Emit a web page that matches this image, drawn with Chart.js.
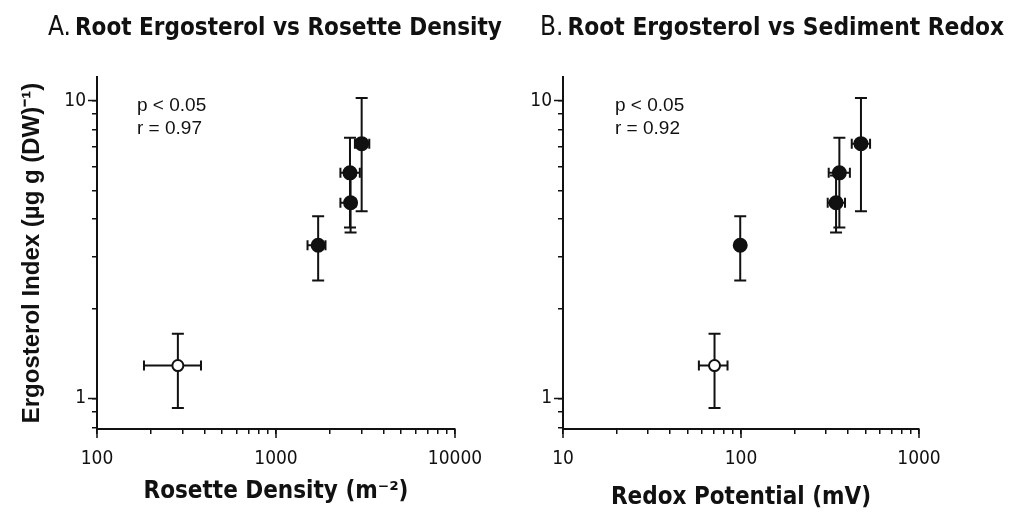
<!DOCTYPE html>
<html>
<head>
<meta charset="utf-8">
<script src="https://cdn.jsdelivr.net/npm/chart.js@4.4.0/dist/chart.umd.min.js"></script>
<style>
  body { margin: 0; background: #fff; }
  #wrap { position: relative; width: 1009px; height: 515px; }
  canvas { position: absolute; top: 0; }
  #chartA { left: 0; }
  #chartB { left: 505px; }
</style>
</head>
<body>
<div id="wrap">
  <canvas id="chartA" width="505" height="515"></canvas>
  <canvas id="chartB" width="504" height="515"></canvas>
</div>
<script>
// ergosterol index per site (first site = open symbol)
const ergosterol = [1.29, 3.27, 4.54, 5.72, 7.17];
const ergosterolLow = [0.93, 2.49, 3.61, 3.75, 4.25];
const ergosterolHigh = [1.65, 4.09, 5.6, 7.5, 10.2];

// panel A: rosette density (m-2)
const rosetteDensity = [283, 1720, 2610, 2590, 3010];
const rosetteDensityLow = [183, 1500, 2290, 2290, 2760];
const rosetteDensityHigh = [381, 1890, 2780, 2940, 3320];

// panel B: redox potential (mV)
const redox = [71, 99, 342, 357, 472];
const redoxLow = [58, 97, 307, 311, 419];
const redoxHigh = [84, 101, 384, 409, 531];

const densityTicks = [100, 1000, 10000];
const redoxTicks = [10, 100, 1000];
const ergTicks = [1, 10];

const narrow = '"Liberation Sans Narrow", "DejaVu Sans Condensed", "Liberation Sans", Arial, sans-serif';
const helv = '"Liberation Sans", Arial, sans-serif';
const ink = '#111';

// 1..9 per decade between min and max
function logTicks(min, max) {
  const out = [];
  for (let d = Math.pow(10, Math.floor(Math.log10(min))); d < max * 10; d *= 10) {
    for (let k = 1; k <= 9; k++) {
      const v = +(k * d).toPrecision(3);
      if (v >= min - 1e-9 && v <= max + 1e-9) out.push(v);
    }
  }
  return out;
}

const errorBars = {
  id: 'errorBars',
  beforeDatasetsDraw(chart) {
    const { ctx, scales: { x, y } } = chart;
    ctx.save();
    ctx.strokeStyle = ink;
    ctx.lineWidth = 2;
    chart.data.datasets[0].data.forEach(p => {
      const px = x.getPixelForValue(p.x), py = y.getPixelForValue(p.y);
      const x0 = x.getPixelForValue(p.xMin), x1 = x.getPixelForValue(p.xMax);
      const y0 = y.getPixelForValue(p.yMin), y1 = y.getPixelForValue(p.yMax);
      ctx.beginPath();
      ctx.moveTo(px, y0); ctx.lineTo(px, y1);
      ctx.moveTo(px - 6, y0); ctx.lineTo(px + 6, y0);
      ctx.moveTo(px - 6, y1); ctx.lineTo(px + 6, y1);
      ctx.moveTo(x0, py); ctx.lineTo(x1, py);
      ctx.moveTo(x0, py - 5); ctx.lineTo(x0, py + 5);
      ctx.moveTo(x1, py - 5); ctx.lineTo(x1, py + 5);
      ctx.stroke();
    });
    ctx.restore();
  }
};

// longer marks for the decades + panel text
const decor = {
  id: 'decor',
  afterDraw(chart, args, opts) {
    const { ctx, scales: { x, y }, chartArea } = chart;
    ctx.save();
    ctx.strokeStyle = ink;
    ctx.lineWidth = 1.5;
    ctx.beginPath();
    opts.xMajors.forEach(v => {
      const px = x.getPixelForValue(v);
      ctx.moveTo(px, chartArea.bottom); ctx.lineTo(px, chartArea.bottom + 9);
    });
    opts.yMajors.forEach(v => {
      const py = y.getPixelForValue(v);
      ctx.moveTo(chartArea.left, py); ctx.lineTo(chartArea.left - 9, py);
    });
    ctx.stroke();

    ctx.fillStyle = ink;
    ctx.textBaseline = 'alphabetic';
    ctx.font = '26px ' + narrow;
    ctx.fillText(opts.letter, opts.titleX, 35);
    const w = ctx.measureText(opts.letter).width;
    ctx.font = 'bold ' + opts.titleSize + 'px ' + narrow;
    ctx.fillText(opts.title, opts.titleX + w + 4, 35);

    ctx.font = '19px ' + helv;
    ctx.fillText(opts.stats[0], chartArea.left + opts.statsX, 111);
    ctx.fillText(opts.stats[1], chartArea.left + opts.statsX, 134);
    ctx.restore();
  }
};

function makeChart(id, xs, xLow, xHigh, xMin, xMax, xMajors, xTitle, xTitleBottom, yW, padRight, withYTitle, decorOpts) {
  const points = xs.map((v, i) => ({
    x: v, y: ergosterol[i],
    xMin: xLow[i], xMax: xHigh[i],
    yMin: ergosterolLow[i], yMax: ergosterolHigh[i]
  }));
  return new Chart(document.getElementById(id), {
    type: 'scatter',
    data: {
      datasets: [{
        data: points,
        pointRadius: ctx => ctx.dataIndex === 0 ? 5.5 : 6.5,
        pointBackgroundColor: ctx => ctx.dataIndex === 0 ? '#fff' : ink,
        pointBorderColor: ink,
        pointBorderWidth: 2
      }]
    },
    options: {
      responsive: false,
      animation: false,
      layout: { padding: { top: 77, right: padRight, bottom: 0, left: 0 } },
      plugins: {
        legend: { display: false },
        tooltip: { enabled: false },
        decor: decorOpts
      },
      scales: {
        x: {
          type: 'logarithmic',
          min: xMin, max: xMax,
          afterBuildTicks: s => { s.ticks = logTicks(xMin, xMax).map(v => ({ value: v })); },
          afterFit: s => { s.height = 86; },
          border: { color: ink, width: 2 },
          grid: { drawOnChartArea: false, tickLength: 5, color: ink, lineWidth: 1.5 },
          ticks: {
            autoSkip: false, maxRotation: 0, padding: 14, color: ink,
            font: { family: narrow, size: 19 },
            callback: v => xMajors.includes(v) ? String(v) : ''
          },
          title: {
            display: true, text: xTitle, color: ink,
            font: { family: narrow, size: 24, weight: 'bold' },
            padding: { top: 0, bottom: xTitleBottom }
          }
        },
        y: {
          type: 'logarithmic',
          min: 0.79, max: 12,
          afterBuildTicks: s => { s.ticks = logTicks(0.8, 10).map(v => ({ value: v })); },
          afterFit: s => { s.width = yW; },
          border: { color: ink, width: 2 },
          grid: { drawOnChartArea: false, tickLength: 5, color: ink, lineWidth: 1.5 },
          ticks: {
            autoSkip: false, padding: 6, color: ink,
            font: { family: narrow, size: 19 },
            callback: v => ergTicks.includes(v) ? String(v) : ''
          },
          title: {
            display: withYTitle, text: 'Ergosterol Index (µg g (DW)⁻¹)', color: ink,
            font: { family: helv, size: 24, weight: 'bold' },
            padding: { top: 18, bottom: 0 }
          }
        }
      }
    },
    plugins: [errorBars, decor]
  });
}

makeChart('chartA', rosetteDensity, rosetteDensityLow, rosetteDensityHigh, 100, 10000,
  densityTicks, 'Rosette Density (m⁻²)', 9, 97, 50, true,
  { letter: 'A.', title: 'Root Ergosterol vs Rosette Density', titleX: 48, titleSize: 24,
    statsX: 40, stats: ['p < 0.05', 'r = 0.97'], xMajors: densityTicks, yMajors: ergTicks });

makeChart('chartB', redox, redoxLow, redoxHigh, 10, 1000,
  redoxTicks, 'Redox Potential (mV)', 3, 58, 90, false,
  { letter: 'B.', title: 'Root Ergosterol vs Sediment Redox', titleX: 35, titleSize: 24.3,
    statsX: 52, stats: ['p < 0.05', 'r = 0.92'], xMajors: redoxTicks, yMajors: ergTicks });
</script>
</body>
</html>
